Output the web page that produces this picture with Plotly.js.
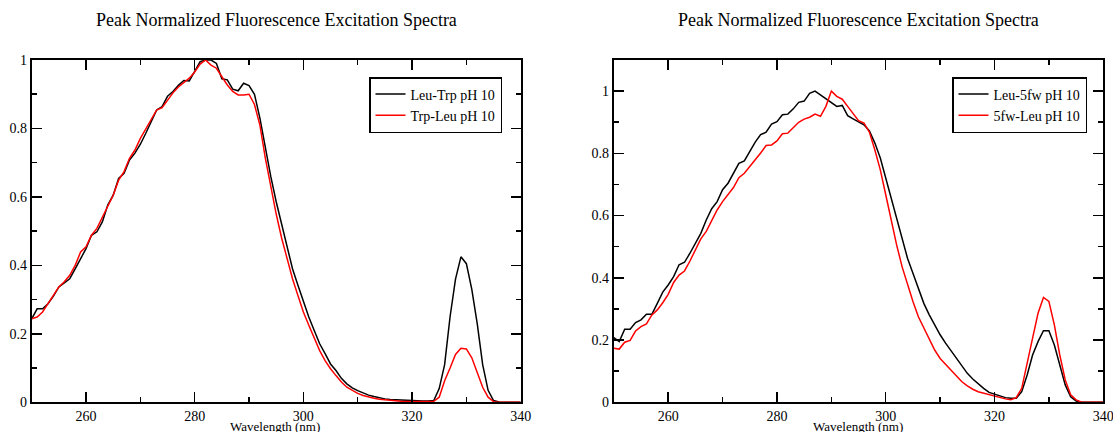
<!DOCTYPE html>
<html>
<head>
<meta charset="utf-8">
<script src="https://cdn.plot.ly/plotly-3.0.1.min.js"></script>
<style>
html,body{margin:0;padding:0;background:#fff;}
#chart{width:1113px;height:432px;}
</style>
</head>
<body>
<div id="chart"></div>
<script>
// Wavelength (nm)
const wavelength = [250,251,252,253,254,255,256,257,258,259,260,261,262,263,264,265,266,267,268,269,270,271,272,273,274,275,276,277,278,279,280,281,282,283,284,285,286,287,288,289,290,291,292,293,294,295,296,297,298,299,300,301,302,303,304,305,306,307,308,309,310,311,312,313,314,315,316,317,318,319,320,321,322,323,324,325,326,327,328,329,330,331,332,333,334,335,336,337,338,339,340];

const leuTrp = [0.244,0.273,0.273,0.288,0.310,0.337,0.349,0.361,0.390,0.420,0.449,0.488,0.498,0.527,0.576,0.605,0.654,0.669,0.708,0.728,0.754,0.786,0.820,0.854,0.864,0.894,0.908,0.926,0.940,0.939,0.967,0.995,1.000,1.000,0.990,0.945,0.942,0.915,0.910,0.932,0.925,0.900,0.830,0.742,0.660,0.586,0.518,0.449,0.390,0.342,0.293,0.249,0.210,0.171,0.142,0.112,0.093,0.070,0.054,0.042,0.034,0.027,0.021,0.017,0.013,0.010,0.008,0.007,0.006,0.005,0.005,0.004,0.004,0.004,0.005,0.040,0.110,0.250,0.360,0.425,0.405,0.330,0.230,0.110,0.035,0.005,0.001,0,0,0,0];

const trpLeu = [0.244,0.249,0.264,0.288,0.313,0.337,0.352,0.371,0.400,0.439,0.454,0.488,0.508,0.542,0.576,0.605,0.649,0.674,0.713,0.737,0.771,0.800,0.825,0.854,0.861,0.884,0.904,0.921,0.935,0.947,0.965,0.988,1.000,0.985,0.976,0.952,0.927,0.908,0.898,0.898,0.900,0.870,0.810,0.713,0.630,0.550,0.480,0.420,0.361,0.312,0.264,0.225,0.186,0.151,0.122,0.098,0.078,0.059,0.044,0.034,0.026,0.020,0.015,0.012,0.009,0.007,0.005,0.004,0.003,0.002,0.002,0.002,0.002,0.002,0.003,0.015,0.063,0.100,0.140,0.158,0.156,0.130,0.088,0.044,0.015,0.002,0,0,0,0,0];

const leu5fw = [0.208,0.195,0.235,0.235,0.256,0.265,0.283,0.283,0.318,0.354,0.377,0.404,0.442,0.450,0.479,0.511,0.543,0.586,0.622,0.645,0.683,0.704,0.736,0.768,0.776,0.806,0.836,0.860,0.868,0.894,0.902,0.924,0.926,0.943,0.964,0.968,0.993,1.000,0.988,0.975,0.964,0.951,0.954,0.921,0.911,0.902,0.892,0.872,0.833,0.785,0.720,0.656,0.592,0.522,0.463,0.415,0.367,0.318,0.281,0.249,0.217,0.190,0.165,0.141,0.115,0.093,0.075,0.059,0.045,0.032,0.026,0.020,0.015,0.013,0.013,0.034,0.088,0.152,0.195,0.230,0.230,0.184,0.120,0.056,0.018,0.004,0,0,0,0,0];

const fwLeu = [0.174,0.171,0.193,0.199,0.229,0.243,0.252,0.281,0.297,0.320,0.347,0.385,0.409,0.422,0.454,0.487,0.525,0.549,0.586,0.618,0.645,0.667,0.690,0.722,0.736,0.758,0.779,0.801,0.825,0.827,0.840,0.863,0.865,0.883,0.900,0.910,0.916,0.926,0.919,0.951,1.000,0.983,0.974,0.951,0.926,0.905,0.897,0.868,0.811,0.747,0.667,0.581,0.506,0.436,0.377,0.324,0.275,0.238,0.200,0.168,0.141,0.122,0.101,0.083,0.066,0.053,0.042,0.034,0.029,0.024,0.019,0.015,0.011,0.008,0.015,0.045,0.131,0.206,0.286,0.337,0.324,0.249,0.152,0.072,0.024,0.008,0,0,0,0,0];

const seriesNames = ['Leu-Trp pH 10','Trp-Leu pH 10','Leu-5fw pH 10','5fw-Leu pH 10'];
const plotTitle = 'Peak Normalized Fluorescence Excitation Spectra';
const xTitle = 'Wavelength (nm)';

const FONT = '"Liberation Serif", "Times New Roman", Times, serif';
const W = 1113, H = 432;

function xa(domain, anchor) {
  return {
    domain: domain, range: [250, 340], anchor: anchor,
    showgrid: false, zeroline: false, showline: true, linecolor: '#000', linewidth: 2,
    mirror: 'allticks', ticks: 'inside', ticklen: 10, tickwidth: 1.5, tickcolor: '#000',
    tick0: 0, dtick: 20, ticklabeloverflow: 'allow',
    minor: {dtick: 10, tick0: 0, ticks: 'inside', ticklen: 5, tickwidth: 1.5, tickcolor: '#000', showgrid: false},
    tickfont: {family: FONT, size: 14, color: '#000'},
    automargin: false
  };
}
function ya(domain, anchor, top) {
  return {
    domain: domain, range: [0, top], anchor: anchor,
    showgrid: false, zeroline: false, showline: true, linecolor: '#000', linewidth: 2,
    mirror: 'allticks', ticks: 'inside', ticklen: 10, tickwidth: 1.5, tickcolor: '#000',
    tick0: 0, dtick: 0.2, ticklabeloverflow: 'allow',
    minor: {dtick: 0.1, tick0: 0, ticks: 'inside', ticklen: 5, tickwidth: 1.5, tickcolor: '#000', showgrid: false},
    tickfont: {family: FONT, size: 14, color: '#000'},
    automargin: false
  };
}

const ydom = [(H - 402.3) / H, (H - 60) / H];

const traces = [
  {x: wavelength, y: leuTrp, name: seriesNames[0], type: 'scatter', mode: 'lines', line: {color: '#000000', width: 1.5}, xaxis: 'x', yaxis: 'y', legend: 'legend'},
  {x: wavelength, y: trpLeu, name: seriesNames[1], type: 'scatter', mode: 'lines', line: {color: '#ff0000', width: 1.5}, xaxis: 'x', yaxis: 'y', legend: 'legend'},
  {x: wavelength, y: leu5fw, name: seriesNames[2], type: 'scatter', mode: 'lines', line: {color: '#000000', width: 1.5}, xaxis: 'x2', yaxis: 'y2', legend: 'legend2'},
  {x: wavelength, y: fwLeu, name: seriesNames[3], type: 'scatter', mode: 'lines', line: {color: '#ff0000', width: 1.5}, xaxis: 'x2', yaxis: 'y2', legend: 'legend2'}
];

const legendBase = {
  xanchor: 'left', yanchor: 'top', bgcolor: '#fff', bordercolor: '#000', borderwidth: 1.5,
  font: {family: FONT, size: 14, color: '#000'}, itemwidth: 30, tracegroupgap: 0, traceorder: 'normal'
};

function ann(text, xpx, ypx, size) {
  return {text: text, xref: 'paper', yref: 'paper', x: xpx / W, y: (H - ypx) / H, xanchor: 'center', yanchor: 'middle', showarrow: false, font: {family: FONT, size: size, color: '#000'}};
}

const layout = {
  width: W, height: H,
  margin: {l: 0, r: 0, t: 0, b: 0, pad: 0},
  font: {family: FONT, size: 14, color: '#000'},
  paper_bgcolor: '#fff', plot_bgcolor: '#fff',
  showlegend: true,
  xaxis: xa([31.7 / W, 520.7 / W], 'y'),
  yaxis: ya(ydom, 'x', 1),
  xaxis2: xa([613.8 / W, 1103.3 / W], 'y2'),
  yaxis2: ya(ydom, 'x2', 1.1),
  legend: Object.assign({}, legendBase, {x: 369 / W, y: (H - 77) / H}),
  legend2: Object.assign({}, legendBase, {x: 952 / W, y: (H - 77) / H}),
  annotations: [
    ann(plotTitle, 276.2, 20, 18),
    ann(plotTitle, 858.5, 20, 18),
    ann(xTitle, 275, 426.5, 13),
    ann(xTitle, 858, 426.5, 13)
  ]
};

Plotly.newPlot('chart', traces, layout, {displayModeBar: false, staticPlot: true});
</script>
</body>
</html>
